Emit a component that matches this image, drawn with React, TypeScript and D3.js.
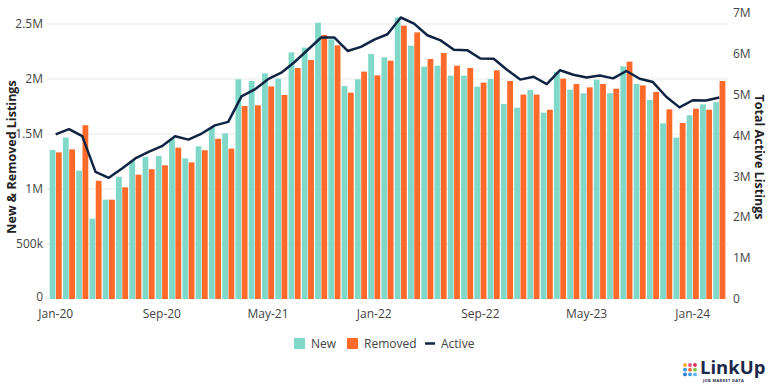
import React from 'react';
import * as d3 from 'd3';

// monthly, Jan-20 .. Mar-24
const months = [
  'Jan-20', 'Feb-20', 'Mar-20', 'Apr-20', 'May-20', 'Jun-20', 'Jul-20', 'Aug-20', 'Sep-20', 'Oct-20', 'Nov-20', 'Dec-20',
  'Jan-21', 'Feb-21', 'Mar-21', 'Apr-21', 'May-21', 'Jun-21', 'Jul-21', 'Aug-21', 'Sep-21', 'Oct-21', 'Nov-21', 'Dec-21',
  'Jan-22', 'Feb-22', 'Mar-22', 'Apr-22', 'May-22', 'Jun-22', 'Jul-22', 'Aug-22', 'Sep-22', 'Oct-22', 'Nov-22', 'Dec-22',
  'Jan-23', 'Feb-23', 'Mar-23', 'Apr-23', 'May-23', 'Jun-23', 'Jul-23', 'Aug-23', 'Sep-23', 'Oct-23', 'Nov-23', 'Dec-23',
  'Jan-24', 'Feb-24', 'Mar-24',
];

// millions
const newListings = [
  1.355, 1.467, 1.167, 0.73, 0.903, 1.112, 1.257, 1.29, 1.3, 1.452, 1.279, 1.388,
  1.557, 1.506, 1.997, 1.982, 2.052, 2.003, 2.242, 2.285, 2.512, 2.36, 1.936, 1.997,
  2.227, 2.197, 2.56, 2.303, 2.112, 2.121, 2.03, 2.03, 1.93, 2.0, 1.773, 1.739,
  1.9, 1.694, 2.064, 1.903, 1.87, 1.994, 1.87, 2.115, 1.955, 1.81, 1.597, 1.467,
  1.67, 1.77, 1.79,
];

const removedListings = [
  1.333, 1.36, 1.58, 1.075, 0.903, 1.015, 1.13, 1.18, 1.215, 1.376, 1.242, 1.352,
  1.457, 1.367, 1.755, 1.761, 1.933, 1.855, 2.1, 2.173, 2.4, 2.306, 1.876, 2.067,
  2.033, 2.167, 2.485, 2.424, 2.182, 2.236, 2.121, 2.1, 1.967, 2.079, 1.982, 1.858,
  1.858, 1.721, 2.003, 1.955, 1.924, 1.955, 1.912, 2.158, 1.942, 1.882, 1.724, 1.6,
  1.73, 1.721, 1.982,
];

const activeListings = [
  4.03, 4.156, 3.985, 3.113, 2.967, 3.195, 3.44, 3.6, 3.74, 3.985, 3.9, 4.05,
  4.25, 4.335, 4.96, 5.13, 5.38, 5.54, 5.8, 6.1, 6.4, 6.4, 6.07, 6.17,
  6.35, 6.48, 6.89, 6.74, 6.455, 6.33, 6.1, 6.09, 5.885, 5.88, 5.61, 5.37,
  5.44, 5.26, 5.6, 5.49, 5.42, 5.47, 5.4, 5.58, 5.39, 5.31, 4.95, 4.69,
  4.865, 4.86, 4.93,
];

const xTickLabels = ['Jan-20', 'Sep-20', 'May-21', 'Jan-22', 'Sep-22', 'May-23', 'Jan-24'];
const leftTicks = [0, 0.5, 1, 1.5, 2, 2.5];
const rightTicks = [0, 1, 2, 3, 4, 5, 6, 7];

const TEAL = '#7fd8c8';
const ORANGE = '#ff6a2a';
const NAVY = '#0f2443';
const TEXT = '#444';
const FONT = '"Open Sans", "Noto Sans", sans-serif';

const W = 768;
const H = 385;
const left = 47;
const right = 728;
const top = 13;
const bottom = 299;

function fmtLeft(v: number) {
  if (v === 0) return '0';
  if (v < 1) return `${v * 1000}k`;
  return `${v}M`;
}

export default function App() {
  const x = d3.scaleBand<string>().domain(months).range([left, right]).paddingInner(0.09).paddingOuter(0.2);
  const inner = d3.scaleBand<string>().domain(['new', 'removed']).range([0, x.bandwidth()]).paddingInner(0.08);
  const yL = d3.scaleLinear().domain([0, 2.6]).range([bottom, top]);
  const yR = d3.scaleLinear().domain([0, 7]).range([bottom, top]);

  const line = d3.line<number>()
    .x((_, i) => (x(months[i]) as number) + x.bandwidth() / 2)
    .y(d => yR(d));

  const logoColors = [
    ['#f6a821', '#e8477e', '#d82c55'],
    ['#2f9be0', '#f26b2a', '#7cc143'],
    ['#2a7fd4', '#3aa0e2', '#5bb5ea'],
  ];

  return (
    <svg width={W} height={H} style={{ position: 'absolute', left: 0, top: 0, fontFamily: FONT }}>
      <rect width={W} height={H} fill="#fff" />

      {/* grid */}
      {leftTicks.filter(t => t > 0).map(t => (
        <line key={t} x1={left} x2={right} y1={yL(t)} y2={yL(t)} stroke="#e9e9e9" strokeWidth={1} />
      ))}

      {/* bars */}
      {months.map((m, i) => (
        <g key={m} transform={`translate(${x(m)},0)`}>
          <rect x={inner('new')} y={yL(newListings[i])} width={inner.bandwidth()} height={bottom - yL(newListings[i])} fill={TEAL} />
          <rect x={inner('removed')} y={yL(removedListings[i])} width={inner.bandwidth()} height={bottom - yL(removedListings[i])} fill={ORANGE} />
        </g>
      ))}

      <path d={line(activeListings) || ''} fill="none" stroke={NAVY} strokeWidth={2.5} strokeLinejoin="round" />

      {/* left axis */}
      {leftTicks.map(t => (
        <text key={t} x={43} y={t === 0 ? yL(t) - 2 : yL(t)} dy="0.35em" textAnchor="end" fontSize={12} fill={TEXT}>{fmtLeft(t)}</text>
      ))}
      {/* right axis */}
      {rightTicks.map(t => (
        <text key={t} x={733} y={yR(t)} dy="0.35em" textAnchor="start" fontSize={12} fill={TEXT}>{t === 0 ? '0' : `${t}M`}</text>
      ))}
      {/* x axis */}
      {xTickLabels.map(l => (
        <text key={l} x={(x(l) as number) + x.bandwidth() / 2} y={313.5} dy="0.35em" textAnchor="middle" fontSize={12} fill={TEXT}>{l}</text>
      ))}

      <text transform={`translate(12,157) rotate(-90)`} textAnchor="middle" dy="0.35em" fontSize={12.5} fontWeight={700} fill="#222">New &amp; Removed Listings</text>
      <text transform={`translate(759,157) rotate(90)`} textAnchor="middle" dy="0.35em" fontSize={12.5} fontWeight={700} fill="#222">Total Active Listings</text>

      {/* legend */}
      <g fontSize={12} fill={TEXT}>
        <rect x={294} y={338} width={11} height={11} fill={TEAL} />
        <text x={311} y={343.5} dy="0.35em">New</text>
        <rect x={347} y={338} width={11} height={11} fill={ORANGE} />
        <text x={364} y={343.5} dy="0.35em">Removed</text>
        <line x1={425} x2={435} y1={343.5} y2={343.5} stroke={NAVY} strokeWidth={2.5} />
        <text x={441} y={343.5} dy="0.35em">Active</text>
      </g>

      {/* logo */}
      <g>
        {logoColors.map((row, r) => row.map((c, k) => (
          <circle key={`${r}-${k}`} cx={685 + k * 5} cy={365 + r * 4.7} r={1.9} fill={c} />
        )))}
        <text x={700} y={374} fontSize={18.5} fontWeight={700} fill="#1b2a4a">LinkUp</text>
        <text x={703} y={381.5} fontSize={4} fontWeight={700} fill="#1b2a4a" letterSpacing={0.3}>JOB MARKET DATA</text>
      </g>
    </svg>
  );
}
